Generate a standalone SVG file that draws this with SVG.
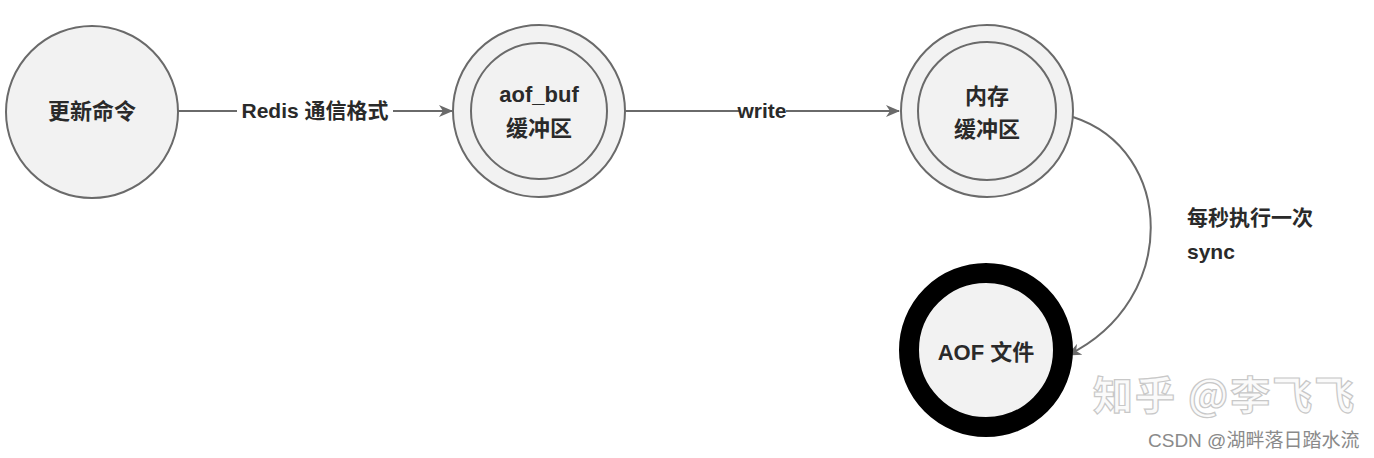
<svg xmlns="http://www.w3.org/2000/svg" width="1374" height="458" viewBox="0 0 1374 458">
<style>
.node{fill:#f2f2f2;stroke:#6a6a6a;stroke-width:2}
.inner{fill:none;stroke:#6a6a6a;stroke-width:2}
.t{font-family:"Liberation Sans","Noto Sans CJK SC",sans-serif;font-size:22px;font-weight:bold;fill:#2a2a2a;text-anchor:middle}
.lbl{font-family:"Liberation Sans","Noto Sans CJK SC",sans-serif;font-size:21px;font-weight:bold;fill:#2a2a2a}
.edge{fill:none;stroke:#6a6a6a;stroke-width:2}
.wm{font-family:"Noto Sans CJK SC",sans-serif;font-size:40px;font-weight:bold;fill:#fafafa;stroke:#c8c8c8;stroke-width:1.2;letter-spacing:2px}
.wm2{font-family:"Liberation Sans","Noto Sans CJK SC",sans-serif;font-size:19px;fill:#8a8a8a}
</style>
<defs>
<marker id="arr" viewBox="0 0 14 12" refX="13" refY="6" markerWidth="14" markerHeight="12" markerUnits="userSpaceOnUse" orient="auto">
<path d="M0,0 L14,6 L0,12 L4,6 Z" fill="#6a6a6a"/>
</marker>
</defs>
<rect width="1374" height="458" fill="#ffffff"/>
<g id="connectors">
<line class="edge" x1="178" y1="111" x2="452" y2="111" marker-end="url(#arr)"/>
<rect x="237" y="98" width="156" height="26" fill="#ffffff"/>
<text class="lbl" x="315" y="118" text-anchor="middle">Redis 通信格式</text>
<line class="edge" x1="625" y1="111" x2="899" y2="111" marker-end="url(#arr)"/>
<rect x="739" y="98" width="47" height="26" fill="#ffffff"/>
<text class="lbl" x="762" y="118" text-anchor="middle">write</text>
<path class="edge" d="M1073,117 C1175,150 1180,300 1068,355" marker-end="url(#arr)"/>
<text class="lbl" x="1187" y="225">每秒执行一次</text>
<text class="lbl" x="1187" y="259">sync</text>
</g>
<g id="node-cmd">
<circle class="node" cx="92" cy="112" r="86"/>
<text class="t" x="92" y="119">更新命令</text>
</g>
<g id="node-aofbuf">
<circle class="node" cx="539" cy="111" r="86"/>
<circle class="inner" cx="539" cy="111" r="68"/>
<text class="t" x="539" y="102">aof_buf</text>
<text class="t" x="539" y="136">缓冲区</text>
</g>
<g id="node-mem">
<circle class="node" cx="987" cy="111" r="86"/>
<circle class="inner" cx="987" cy="111" r="69"/>
<text class="t" x="987" y="104">内存</text>
<text class="t" x="987" y="137">缓冲区</text>
</g>
<g id="node-aof">
<circle cx="986" cy="350" r="77" fill="#f2f2f2" stroke="#000" stroke-width="20"/>
<text class="t" x="986" y="360">AOF 文件</text>
</g>
<g id="watermarks">
<text class="wm" x="1093" y="410">知乎 @李飞飞</text>
<text class="wm2" x="1148" y="447">CSDN @湖畔落日踏水流</text>
</g>
</svg>
